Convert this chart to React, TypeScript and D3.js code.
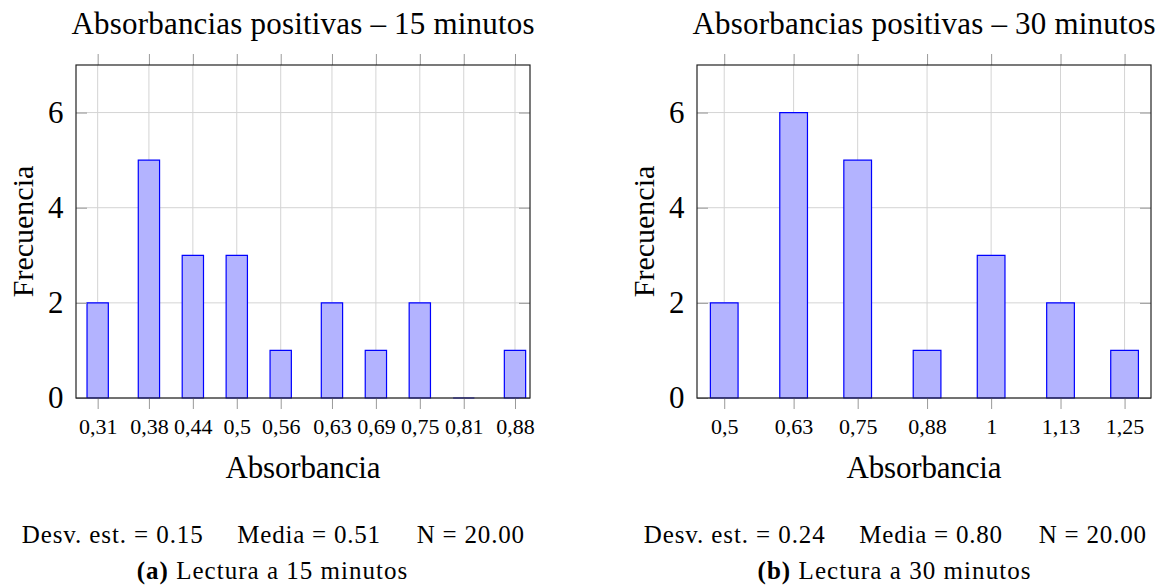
import React, { useEffect, useRef } from 'react'
import * as d3 from 'd3'

const WIDTH = 1162
const HEIGHT = 587
const FONT = '"Liberation Serif", "Times New Roman", serif'

const TOP = 65
const BOTTOM = 398
const TICK = 11

// 15 minutos
const absorbancia15 = [0.31, 0.38, 0.44, 0.5, 0.56, 0.63, 0.69, 0.75, 0.81, 0.88]
const frecuencia15 = [2, 5, 3, 3, 1, 2, 1, 2, 0, 1]
const stats15 = ['Desv. est. = 0.15', 'Media = 0.51', 'N = 20.00']

// 30 minutos
const absorbancia30 = [0.5, 0.63, 0.75, 0.88, 1, 1.13, 1.25]
const frecuencia30 = [2, 6, 5, 1, 3, 2, 1]
const stats30 = ['Desv. est. = 0.24', 'Media = 0.80', 'N = 20.00']

const frecuenciaTicks = [0, 2, 4, 6]

const panels = [
  {
    title: 'Absorbancias positivas – 15 minutos',
    xs: absorbancia15, ys: frecuencia15, stats: stats15,
    tag: '(a)', caption: 'Lectura a 15 minutos', captionWidth: 270.6,
    domain: [0.2804, 0.9005], left: 76, right: 530, barWidth: 21.3, center: 272,
  },
  {
    title: 'Absorbancias positivas – 30 minutos',
    xs: absorbancia30, ys: frecuencia30, stats: stats30,
    tag: '(b)', caption: 'Lectura a 30 minutos', captionWidth: 273,
    domain: [0.449, 1.2995], left: 697, right: 1151, barWidth: 27.7, center: 894,
  },
]

const STAT_OFFSETS = [0, 215.6, 395]
const STAT_WIDTHS = [181, 142.7, 107.3]

const fmt = (d: number) => String(d).replace('.', ',')

function drawPanel(svg: any, p: any) {
  const x = d3.scaleLinear().domain(p.domain).range([p.left, p.right])
  const y = d3.scaleLinear().domain([0, 7]).range([BOTTOM, TOP])
  const g = svg.append('g').attr('font-family', FONT)
  const midX = (p.left + p.right) / 2

  // grid
  g.append('g').selectAll('line').data(p.xs).join('line')
    .attr('x1', (d: number) => x(d)).attr('x2', (d: number) => x(d))
    .attr('y1', TOP).attr('y2', BOTTOM)
    .attr('stroke', '#d4d4d4')
  g.append('g').selectAll('line').data(frecuenciaTicks).join('line')
    .attr('x1', p.left).attr('x2', p.right)
    .attr('y1', (d: number) => y(d)).attr('y2', (d: number) => y(d))
    .attr('stroke', '#d4d4d4')

  // bars (paths so that a zero count still shows as a line)
  g.append('g').selectAll('path').data(p.ys).join('path')
    .attr('d', (d: number, i: number) => {
      const x0 = x(p.xs[i]) - p.barWidth / 2
      return `M${x0},${y(0)}V${y(d)}H${x0 + p.barWidth}V${y(0)}Z`
    })
    .attr('fill', '#b3b3ff')
    .attr('stroke', '#0000ff')
    .attr('stroke-width', 1.2)

  // x ticks bottom (outside) and top (outside)
  const xb = g.append('g').attr('transform', `translate(0,${BOTTOM})`)
    .call(d3.axisBottom(x).tickValues(p.xs).tickSize(TICK).tickFormat(fmt as any))
  xb.attr('font-family', FONT).attr('font-size', 22)
  xb.select('.domain').remove()
  xb.selectAll('line').attr('stroke', '#999')
  xb.selectAll('text').attr('y', 36).attr('dy', null).attr('fill', '#000')

  const xt = g.append('g').attr('transform', `translate(0,${TOP})`)
    .call(d3.axisTop(x).tickValues(p.xs).tickSize(TICK).tickFormat(() => ''))
  xt.select('.domain').remove()
  xt.selectAll('line').attr('stroke', '#999')

  // y ticks (inside) with labels on the left
  const yl = g.append('g').attr('transform', `translate(${p.left},0)`)
    .call(d3.axisLeft(y).tickValues(frecuenciaTicks).tickFormat(d3.format('d') as any)
      .tickSizeInner(-TICK).tickSizeOuter(0).tickPadding(12.5))
  yl.attr('font-family', FONT).attr('font-size', 31)
  yl.select('.domain').remove()
  yl.selectAll('line').attr('stroke', '#999')
  yl.selectAll('text').attr('fill', '#000')

  const yr = g.append('g').attr('transform', `translate(${p.right},0)`)
    .call(d3.axisRight(y).tickValues(frecuenciaTicks).tickSizeInner(-TICK).tickSizeOuter(0).tickFormat(() => ''))
  yr.select('.domain').remove()
  yr.selectAll('line').attr('stroke', '#999')

  // frame
  g.append('rect')
    .attr('x', p.left).attr('y', TOP)
    .attr('width', p.right - p.left).attr('height', BOTTOM - TOP)
    .attr('fill', 'none').attr('stroke', '#222').attr('stroke-width', 1.2)

  // labels
  g.append('text').attr('x', midX).attr('y', 34)
    .attr('text-anchor', 'middle').attr('font-size', 31)
    .attr('textLength', 463).attr('lengthAdjust', 'spacing')
    .text(p.title)
  g.append('text').attr('x', midX).attr('y', 478)
    .attr('text-anchor', 'middle').attr('font-size', 31)
    .attr('textLength', 155).attr('lengthAdjust', 'spacing')
    .text('Absorbancia')
  g.append('text')
    .attr('transform', `translate(${p.left - 43.5},${(TOP + BOTTOM) / 2}) rotate(-90)`)
    .attr('text-anchor', 'middle').attr('font-size', 30).text('Frecuencia')

  // statistics line
  p.stats.forEach((s: string, i: number) => {
    g.append('text')
      .attr('x', p.center - 250.3 + STAT_OFFSETS[i]).attr('y', 543.3)
      .attr('font-size', 25)
      .attr('textLength', STAT_WIDTHS[i]).attr('lengthAdjust', 'spacing')
      .text(s)
  })

  // caption
  const cap = g.append('text').attr('x', p.center).attr('y', 579.3)
    .attr('text-anchor', 'middle').attr('font-size', 25)
    .attr('textLength', p.captionWidth).attr('lengthAdjust', 'spacing')
  cap.append('tspan').attr('font-weight', 'bold').text(p.tag)
  cap.append('tspan').text(' ' + p.caption)
}

export default function App() {
  const ref = useRef<SVGSVGElement | null>(null)

  useEffect(() => {
    const svg = d3.select(ref.current)
    svg.selectAll('*').remove()
    svg.append('rect').attr('width', WIDTH).attr('height', HEIGHT).attr('fill', '#fff')
    panels.forEach(p => drawPanel(svg, p))
  }, [])

  return (
    <svg
      ref={ref}
      width={WIDTH}
      height={HEIGHT}
      style={{ position: 'absolute', left: 0, top: 0 }}
    />
  )
}
